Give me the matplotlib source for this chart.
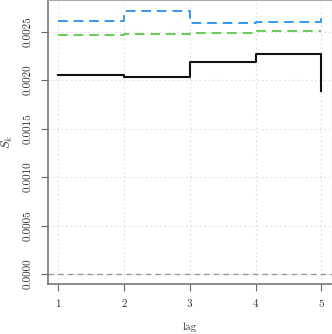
import matplotlib
matplotlib.use("Agg")
import matplotlib.pyplot as plt

lag = [1, 2, 3, 4, 5]
s_black = [0.002056, 0.002035, 0.002186, 0.002275, 0.001887]
s_blue = [0.002607, 0.002716, 0.002590, 0.002597, 0.002665]
s_green = [0.002469, 0.002476, 0.002487, 0.002507, 0.002507]
yticks = [0.0, 0.0005, 0.0010, 0.0015, 0.0020, 0.0025]
ytick_labels = ["0.0000", "0.0005", "0.0010", "0.0015", "0.0020", "0.0025"]

plt.rcParams["font.family"] = "serif"
plt.rcParams["font.serif"] = ["cmr10", "DejaVu Serif"]
plt.rcParams["mathtext.fontset"] = "cm"
plt.rcParams["axes.formatter.use_mathtext"] = True

fig = plt.figure(figsize=(3.32, 3.34), dpi=100)
ax = fig.add_axes([48/332, 1-284/334, (331.5-48)/332, 284/334])

ax.grid(True, color="#dddddd", linestyle=(0, (1.5, 2.5)), linewidth=0.8)
ax.set_axisbelow(True)
ax.axhline(0, color="#999999", linestyle=(0, (4, 3)), linewidth=1.0)

ax.step(lag, s_blue, where="post", color="#3399ee", linestyle=(0, (5, 3)), linewidth=1.4)
ax.step(lag, s_green, where="post", color="#66cc55", linestyle=(0, (5, 3)), linewidth=1.4)
ax.step(lag, s_black, where="post", color="#111111", linewidth=1.5)

ax.set_xlim(0.845, 5.155)
ax.set_ylim(-0.000103, 0.002827)
ax.set_xticks(lag)
ax.set_xticklabels([str(v) for v in lag])
ax.set_yticks(yticks)
ax.set_yticklabels(ytick_labels, rotation=90, va="center")

for side in ["left", "bottom"]:
    ax.spines[side].set_color("#777777")
    ax.spines[side].set_linewidth(1.2)
for side in ["top", "right"]:
    ax.spines[side].set_color("#aaaaaa")
    ax.spines[side].set_linewidth(0.8)

ax.tick_params(axis="both", direction="out", length=5, width=0.8, color="#666666",
               labelsize=8, labelcolor="#333333", pad=6)
ax.set_xlabel("lag", fontsize=8, color="#333333", labelpad=10)
ax.set_ylabel("$S_k$", fontsize=9, color="#333333", labelpad=6)

fig.savefig("out.png", dpi=100)
